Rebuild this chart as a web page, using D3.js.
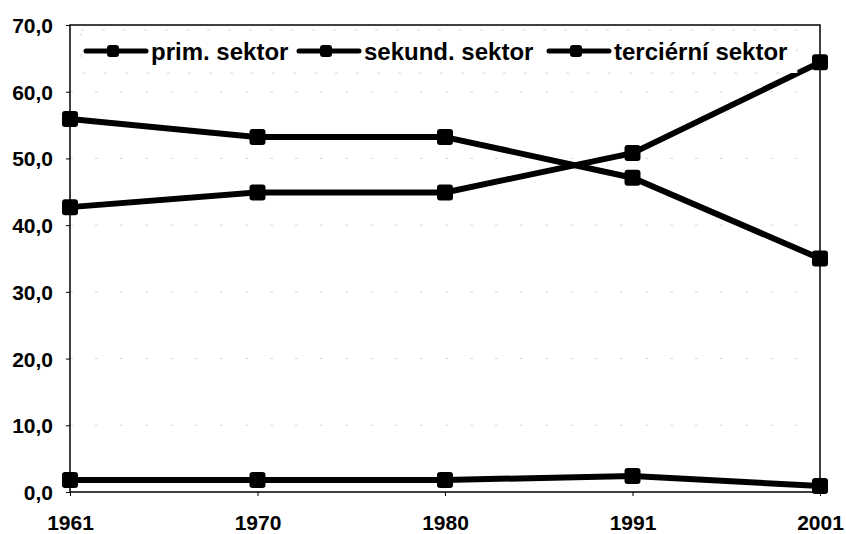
<!DOCTYPE html>
<html>
<head>
<meta charset="utf-8">
<script src="https://cdn.jsdelivr.net/npm/d3@7"></script>
<style>
  body { margin: 0; background: #fff; }
  text { font-family: "Liberation Sans", Arial, sans-serif; font-weight: bold; fill: #000; }
</style>
</head>
<body>
<div id="chart"></div>
<script>
// --- data ---
const years = ["1961", "1970", "1980", "1991", "2001"];
const seriesNames = ["prim. sektor", "sekund. sektor", "terciérní sektor"];
const primValues = [1.8, 1.8, 1.8, 2.4, 0.9];
const sekundValues = [55.9, 53.2, 53.2, 47.1, 35.0];
const tercValues = [42.7, 44.9, 44.9, 50.8, 64.4];
const yTicks = [0, 10, 20, 30, 40, 50, 60, 70];

const width = 846;
const height = 534;
const margin = { top: 25, right: 26, bottom: 42, left: 70 };

const svg = d3.select("#chart")
    .append("svg")
    .attr("width", width)
    .attr("height", height);

const x = d3.scalePoint()
    .domain(years)
    .range([margin.left, width - margin.right]);

const y = d3.scaleLinear()
    .domain([0, 70])
    .range([height - margin.bottom, margin.top]);

// grid lines (very faint, dashed)
svg.append("g")
    .selectAll("line")
    .data(yTicks.filter(d => d > 0 && d < 70))
    .enter().append("line")
    .attr("x1", margin.left)
    .attr("x2", width - margin.right)
    .attr("y1", d => y(d))
    .attr("y2", d => y(d))
    .attr("stroke", "#d8d8d8")
    .attr("stroke-width", 1)
    .attr("stroke-dasharray", "3,22");

// plot border
svg.append("rect")
    .attr("x", margin.left)
    .attr("y", margin.top)
    .attr("width", width - margin.left - margin.right)
    .attr("height", height - margin.top - margin.bottom)
    .attr("fill", "none")
    .attr("stroke", "#000")
    .attr("stroke-width", 1.5);

// y axis
const yAxis = svg.append("g")
    .attr("transform", `translate(${margin.left},0)`)
    .call(d3.axisLeft(y).tickValues(yTicks).tickFormat(d => d3.format(".1f")(d).replace(".", ",")).tickSize(4).tickPadding(13));
yAxis.select(".domain").remove();
yAxis.selectAll("text").style("font-size", "21px").style("font-weight", "bold").attr("dy", "0.36em");

// x axis
const xAxis = svg.append("g")
    .attr("transform", `translate(0,${height - margin.bottom})`)
    .call(d3.axisBottom(x).tickSize(4).tickPadding(19));
xAxis.select(".domain").remove();
xAxis.selectAll("text").style("font-size", "21px").style("font-weight", "bold");

// lines
const allSeries = [primValues, sekundValues, tercValues];
const line = d3.line()
    .x((d, i) => x(years[i]))
    .y(d => y(d));

allSeries.forEach(values => {
    svg.append("path")
        .datum(values)
        .attr("d", line)
        .attr("fill", "none")
        .attr("stroke", "#000")
        .attr("stroke-width", 6)
        .attr("stroke-linejoin", "round");

    svg.append("g")
        .selectAll("rect")
        .data(values)
        .enter().append("rect")
        .attr("x", (d, i) => x(years[i]) - 8)
        .attr("y", d => y(d) - 8)
        .attr("width", 16)
        .attr("height", 16)
        .attr("rx", 3)
        .attr("fill", "#000");
});

// legend
const legend = svg.append("g");
legend.append("rect")
    .attr("x", 81)
    .attr("y", 30)
    .attr("width", 716)
    .attr("height", 43)
    .attr("fill", "#fff")
    .attr("stroke", "#d8d8d8")
    .attr("stroke-dasharray", "3,18");

const legendX = [86, 299, 549];
seriesNames.forEach((name, i) => {
    const g = legend.append("g").attr("transform", `translate(${legendX[i]},51)`);
    g.append("line")
        .attr("x1", 0).attr("x2", 60)
        .attr("y1", 0).attr("y2", 0)
        .attr("stroke", "#000")
        .attr("stroke-width", 5)
        .attr("stroke-linecap", "round");
    g.append("rect")
        .attr("x", 21).attr("y", -6)
        .attr("width", 12).attr("height", 12)
        .attr("rx", 3)
        .attr("fill", "#000");
    g.append("text")
        .attr("x", 65)
        .attr("y", 0)
        .attr("dy", "0.36em")
        .style("font-size", "24px")
        .text(name);
});
</script>
</body>
</html>
